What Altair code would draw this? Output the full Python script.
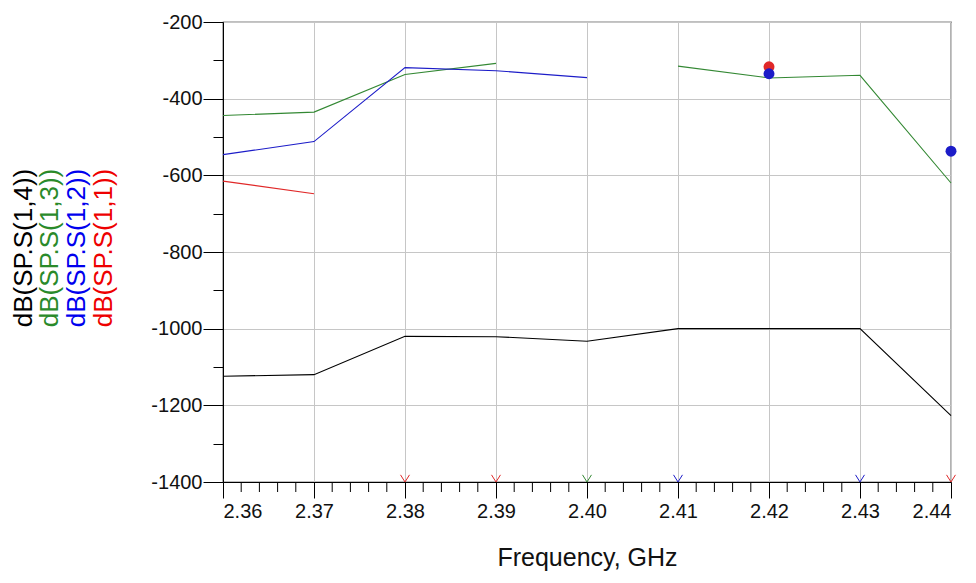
import altair as alt
import pandas as pd

# ---- data ----
freqs = [2.36, 2.37, 2.38, 2.39, 2.40, 2.41, 2.42, 2.43, 2.44]
s14 = [-1124, -1120, -1020, -1021, -1033, -1000, -1000, -1000, -1227]
s13 = [-444, -435, -337, -308, None, -315, -346, -339, -620]
s12 = [-546, -512, -319, -327, -345, None, -335, None, -537]
s11 = [-615, -648, None, None, None, None, -317, None, None]

series_names = ["dB(SP.S(1,4))", "dB(SP.S(1,3))", "dB(SP.S(1,2))", "dB(SP.S(1,1))"]
series_values = [s14, s13, s12, s11]
series_colors = ["#000000", "#338833", "#1c1cc8", "#e02828"]
label_colors = ["#000000", "#2a8a2a", "#0000ee", "#ee0000"]

off_scale = {
    "dB(SP.S(1,1))": [2.38, 2.39, 2.44],
    "dB(SP.S(1,3))": [2.40],
    "dB(SP.S(1,2))": [2.41, 2.43],
}

x_ticks = [2.36, 2.37, 2.38, 2.39, 2.40, 2.41, 2.42, 2.43, 2.44]
x_minor = [2.362, 2.364, 2.366, 2.368, 2.372, 2.374, 2.376, 2.378,
           2.382, 2.384, 2.386, 2.388, 2.392, 2.394, 2.396, 2.398,
           2.402, 2.404, 2.406, 2.408, 2.412, 2.414, 2.416, 2.418,
           2.422, 2.424, 2.426, 2.428, 2.432, 2.434, 2.436, 2.438]
y_ticks = [-1400, -1200, -1000, -800, -600, -400, -200]
y_minor = [-1300, -1100, -900, -700, -500, -300]
x_domain = [2.36, 2.44]
y_domain = [-1400, -200]

FONT = "Liberation Sans"
W, H = 728, 460

rows = []
for name, vals in zip(series_names, series_values):
    for f, v in zip(freqs, vals):
        rows.append({"freq": f, "value": v, "series": name})
df = pd.DataFrame(rows)

iso_rows = []
for name, vals in zip(series_names, series_values):
    for i, v in enumerate(vals):
        if v is None:
            continue
        left = vals[i - 1] if i > 0 else None
        right = vals[i + 1] if i < len(vals) - 1 else None
        if left is None and right is None:
            iso_rows.append({"freq": freqs[i], "value": v, "series": name})
df_iso = pd.DataFrame(iso_rows)

off_rows = []
for name, fl in off_scale.items():
    for f in fl:
        off_rows.append({"freq": f, "value": y_domain[0], "series": name})
df_off = pd.DataFrame(off_rows)

df_xminor = pd.DataFrame({"freq": x_minor, "top": [y_domain[0]] * len(x_minor)})

xs = alt.Scale(domain=x_domain, nice=False, zero=False)
ys = alt.Scale(domain=y_domain, nice=False, zero=False)
cs = alt.Scale(domain=series_names, range=series_colors)

x_main = alt.Axis(values=x_ticks, format=".2f", orient="bottom", tickSize=16,
                  labelPadding=3, labelFontSize=20, labelColor="#111111",
                  labelFont=FONT, domainColor="black", tickColor="black",
                  grid=True, gridColor="#c6c6c6", title="Frequency, GHz",
                  titleFont=FONT, titleFontSize=25, titleFontWeight="normal",
                  titleColor="#111111", titlePadding=24)
y_main = alt.Axis(values=y_ticks, orient="left", tickSize=20,
                  labelExpr="'' + datum.value",
                  labelPadding=1, labelFontSize=20, labelColor="#111111",
                  labelFont=FONT, domainColor="black", tickColor="black",
                  grid=True, gridColor="#c6c6c6", title=None)
y_min_ax = alt.Axis(values=y_minor, orient="left", tickSize=10, labels=False,
                    domain=False, grid=False, tickColor="black", title=None)

layers = []

layers.append(
    alt.Chart(df).mark_point(opacity=0).encode(
        x=alt.X("freq:Q", scale=xs, axis=x_main),
        y=alt.Y("value:Q", scale=ys, axis=y_main),
    )
)
layers.append(
    alt.Chart(df).mark_point(opacity=0).encode(
        x=alt.X("freq:Q", scale=xs, axis=None),
        y=alt.Y("value:Q", scale=ys, axis=y_min_ax),
    )
)
# minor x ticks: rule from the bottom of the scale downward by 10 px
layers.append(
    alt.Chart(df_xminor).mark_rule(color="black", strokeWidth=1, clip=False).encode(
        x=alt.X("freq:Q", scale=xs, axis=None),
        y=alt.Y("top:Q", scale=ys, axis=None),
        y2=alt.value(H + 10),
    )
)

for name, col in zip(series_names, series_colors):
    layers.append(
        alt.Chart(df[df.series == name]).mark_line(
            color=col, strokeWidth=1.1, invalid="break-paths-show-domains"
        ).encode(
            x=alt.X("freq:Q", scale=xs, axis=None),
            y=alt.Y("value:Q", scale=ys, axis=None),
        )
    )

for name in ["dB(SP.S(1,1))", "dB(SP.S(1,3))", "dB(SP.S(1,2))", "dB(SP.S(1,4))"]:
    sub = df_iso[df_iso.series == name]
    if len(sub) == 0:
        continue
    layers.append(
        alt.Chart(sub).mark_circle(size=120, opacity=1).encode(
            x=alt.X("freq:Q", scale=xs, axis=None),
            y=alt.Y("value:Q", scale=ys, axis=None),
            color=alt.Color("series:N", scale=cs, legend=None),
        )
    )

layers.append(
    alt.Chart(df_off).mark_point(
        shape="M-1,-1.6L0,0L1,-1.6", filled=False, size=80, strokeWidth=1, opacity=1
    ).encode(
        x=alt.X("freq:Q", scale=xs, axis=None),
        y=alt.Y("value:Q", scale=ys, axis=None),
        color=alt.Color("series:N", scale=cs, legend=None),
    )
)

title_x = [-199, -173, -146, -119]
for name, col, xp in zip(series_names, label_colors, title_x):
    layers.append(
        alt.Chart(pd.DataFrame({"label": [name]})).mark_text(
            angle=270, align="center", baseline="middle", fontSize=26,
            font=FONT, color=col
        ).encode(
            x=alt.value(xp), y=alt.value(226), text="label:N"
        )
    )

chart = alt.layer(*layers).resolve_axis(
    x="independent", y="independent"
).properties(
    width=W, height=H,
    autosize=alt.AutoSizeParams(type="none"),
    padding={"left": 215, "top": 14, "right": 17, "bottom": 93},
).configure(
    font=FONT, background="white"
).configure_view(
    stroke="black", strokeWidth=1.2
)

chart.save("out.html", embed_options={"renderer": "svg", "actions": False})
